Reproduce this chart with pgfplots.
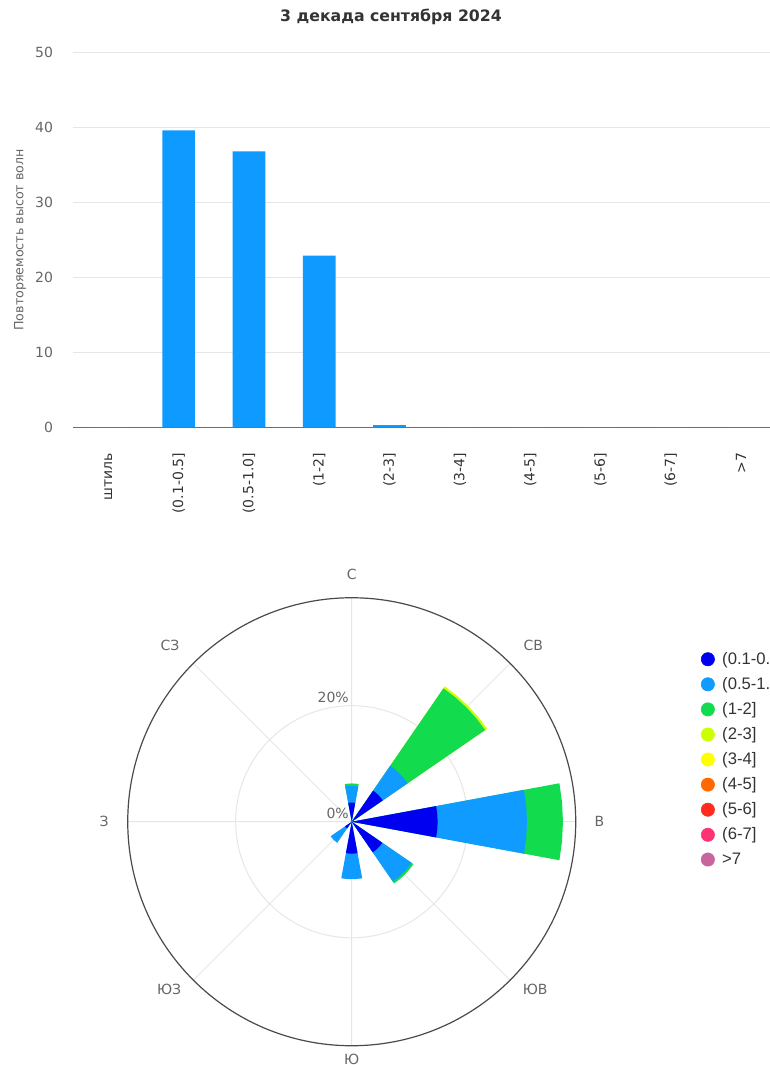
\documentclass[border=0pt]{standalone}
\usepackage{fontspec}
\setmainfont{DejaVu Sans}
\newfontfamily\legfont{Liberation Sans}
\usepackage{pgfplots}
\usepackage{pgfplotstable}
\pgfplotsset{compat=1.18}
\usepgfplotslibrary{polar}

\definecolor{barblue}{HTML}{0F9AFF}
\definecolor{gridgray}{HTML}{E6E6E6}
\definecolor{axisgray}{HTML}{6E6E6E}
\definecolor{ringdark}{HTML}{4A4A4A}
\definecolor{labgray}{HTML}{666666}
\definecolor{titlegray}{HTML}{333333}
\definecolor{cA}{HTML}{0000F0}
\definecolor{cB}{HTML}{0F9BFF}
\definecolor{cC}{HTML}{13DB4E}
\definecolor{cD}{HTML}{CCFF00}
\definecolor{cE}{HTML}{FFFF00}
\definecolor{cF}{HTML}{FF6A00}
\definecolor{cG}{HTML}{FF2B1C}
\definecolor{cH}{HTML}{FF3374}
\definecolor{cI}{HTML}{C8649E}

% outline of one wind-rose sector: angle offset t, radius factor u
\pgfplotstableread{
t u
0 0
-10.5 1
-5.25 1
0 1
5.25 1
10.5 1
}\sectorshape

% #1 colour, #2 direction (deg), #3 cumulative percentage
\newcommand{\sector}[3]{%
  \addplot[fill=#1, draw=none, forget plot]
    table[x expr=\thisrow{t}+#2, y expr=\thisrow{u}*#3] {\sectorshape};
}
\newcommand{\dirlabel}[3]{%
  \node[text=labgray, font=\fontsize{10.5}{12}\selectfont, inner sep=0pt] at (axis cs:#1,#2) {#3};
}

\begin{document}
\begin{tikzpicture}

\node[font=\bfseries\fontsize{11.8}{14}\selectfont, text=titlegray] at (293.25pt,-12.9pt) {3 декада сентября 2024};

\begin{axis}[
  at={(54.9pt,-320.6pt)}, anchor=south west,
  scale only axis, width=527.25pt, height=281.4pt,
  xmin=-0.5, xmax=9.5, ymin=0, ymax=50,
  xtick={0,...,9},
  xticklabels={штиль,{(0.1-0.5]},{(0.5-1.0]},{(1-2]},{(2-3]},{(3-4]},{(4-5]},{(5-6]},{(6-7]},>7},
  ytick={0,10,...,50},
  ymajorgrids, grid style={draw=gridgray, line width=0.75pt},
  axis x line*=bottom, axis y line*=left,
  x axis line style={draw=axisgray, line width=1pt, -},
  y axis line style={draw=none},
  major tick length=0pt,
  /pgf/number format/assume math mode=true,
  yticklabel style={font=\fontsize{10.5}{12}\selectfont, text=labgray, anchor=east, inner sep=0pt, xshift=-15pt},
  xticklabel style={font=\fontsize{10.5}{12}\selectfont, text=titlegray, rotate=90, anchor=east, inner sep=0pt},
  xticklabel shift=19pt,
  ylabel={Повторяемость высот волн},
  ylabel style={font=\fontsize{9.5}{11}\selectfont, text=labgray, at={(axis description cs:-0.0757,0.5)}, anchor=center},
]
\addplot[ybar, bar width=0.465, fill=barblue, draw=none] coordinates {
  (0,0) (1,39.6) (2,36.8) (3,22.9) (4,0.3) (5,0) (6,0) (7,0) (8,0) (9,0)
};
\end{axis}

\begin{polaraxis}[
  at={(263.8pt,-616.3pt)}, anchor=center,
  scale only axis, width=336pt, height=336pt,
  xmin=0, xmax=360, ymin=0, ymax=38.6,
  xtick={0,45,...,315}, xticklabels={},
  ytick={20}, yticklabels={},
  xmajorgrids, ymajorgrids,
  grid style={draw=gridgray, line width=0.75pt},
  major tick length=0pt,
  x axis line style={draw=ringdark, line width=0.9pt},
  y axis line style={draw=none},
  clip=false,
  legend style={at={(axis description cs:1.2795,0.885)}, anchor=north west,
    draw=none, fill=none, inner sep=0pt, row sep=4.25pt,
    font=\legfont\fontsize{12.5}{15}\selectfont, text=titlegray},
  legend cell align=left,
  legend image code/.code={%
    \path[draw=none, fill=none] (0pt,-0.1pt) rectangle (8.75pt,0.1pt);
    \draw[#1] plot coordinates {(0pt,0pt)};},
]
\addlegendimage{only marks, mark=*, mark size=5pt, cA}\addlegendentry{(0.1-0.5]}
\addlegendimage{only marks, mark=*, mark size=5pt, cB}\addlegendentry{(0.5-1.0]}
\addlegendimage{only marks, mark=*, mark size=5pt, cC}\addlegendentry{(1-2]}
\addlegendimage{only marks, mark=*, mark size=5pt, cD}\addlegendentry{(2-3]}
\addlegendimage{only marks, mark=*, mark size=5pt, cE}\addlegendentry{(3-4]}
\addlegendimage{only marks, mark=*, mark size=5pt, cF}\addlegendentry{(4-5]}
\addlegendimage{only marks, mark=*, mark size=5pt, cG}\addlegendentry{(5-6]}
\addlegendimage{only marks, mark=*, mark size=5pt, cH}\addlegendentry{(6-7]}
\addlegendimage{only marks, mark=*, mark size=5pt, cI}\addlegendentry{>7}

% stacked sectors, outermost (cumulative) first
% В
\sector{cC}{0}{36.4}
\sector{cB}{0}{30.2}
\sector{cA}{0}{14.8}
% СВ
\sector{cD}{45}{28.3}
\sector{cC}{45}{27.9}
\sector{cB}{45}{11.7}
\sector{cA}{45}{6.5}
% С
\sector{cC}{90}{6.6}
\sector{cB}{90}{6.2}
\sector{cA}{90}{3.3}
% ЮЗ
\sector{cB}{225}{4.4}
\sector{cA}{225}{1.4}
% Ю
\sector{cB}{270}{9.9}
\sector{cA}{270}{5.5}
% ЮВ
\sector{cC}{315}{12.9}
\sector{cB}{315}{12.5}
\sector{cA}{315}{6.4}

\dirlabel{0}{42.67}{В}
\dirlabel{44.2}{43.67}{СВ}
\dirlabel{90}{42.68}{С}
\dirlabel{135.8}{43.67}{СЗ}
\dirlabel{180}{42.68}{З}
\dirlabel{222.5}{42.7}{ЮЗ}
\dirlabel{270}{41.0}{Ю}
\dirlabel{317.6}{42.8}{ЮВ}

\node[anchor=south east, inner sep=2pt, text=labgray, font=\fontsize{10.5}{12}\selectfont] at (axis cs:90,20) {20\%};
\node[anchor=south east, inner sep=2pt, text=labgray, font=\fontsize{10.5}{12}\selectfont] at (axis cs:0,0) {0\%};
\end{polaraxis}

\pgfresetboundingbox
\path[use as bounding box] (0,0) rectangle (577.5pt,-798.75pt);
\end{tikzpicture}
\end{document}
